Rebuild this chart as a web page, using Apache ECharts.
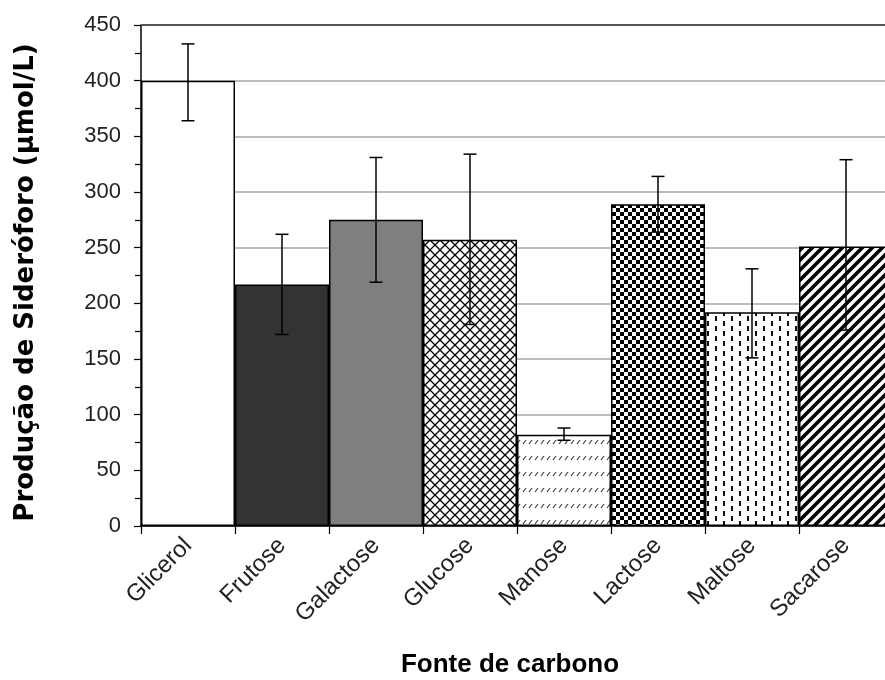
<!DOCTYPE html>
<html>
<head>
<meta charset="utf-8">
<script src="https://cdn.jsdelivr.net/npm/echarts@6/dist/echarts.min.js"></script>
<style>
  html, body { margin: 0; padding: 0; background: #fff; }
  #chart { width: 885px; height: 680px; }
</style>
</head>
<body>
<div id="chart"></div>
<script>
var categories = ['Glicerol', 'Frutose', 'Galactose', 'Glucose', 'Manose', 'Lactose', 'Maltose', 'Sacarose'];
var values = [400, 217, 275, 257, 82, 289, 192, 251];
var errLow = [364, 172, 219, 181, 77, 264, 151, 176];
var errHigh = [433, 262, 331, 334, 88, 314, 231, 329];
var yTicks = [0, 50, 100, 150, 200, 250, 300, 350, 400, 450];

// small canvas tiles used as bar fills
function tile(w, h, draw) {
    var c = document.createElement('canvas');
    c.width = w; c.height = h;
    var ctx = c.getContext('2d');
    ctx.fillStyle = '#fff';
    ctx.fillRect(0, 0, w, h);
    draw(ctx);
    return { image: c, repeat: 'repeat' };
}

var crossHatch = tile(10, 10, function (ctx) {
    ctx.strokeStyle = '#000';
    ctx.lineWidth = 1.3;
    ctx.beginPath();
    ctx.moveTo(0, 0); ctx.lineTo(10, 10);
    ctx.moveTo(10, 0); ctx.lineTo(0, 10);
    ctx.stroke();
});
var dashRows = tile(6, 16, function (ctx) {
    ctx.strokeStyle = '#444';
    ctx.lineWidth = 1.2;
    ctx.beginPath();
    ctx.moveTo(1, 12); ctx.lineTo(4, 8);
    ctx.stroke();
});
var checker = tile(8, 8, function (ctx) {
    ctx.fillStyle = '#000';
    ctx.fillRect(0, 0, 4, 4);
    ctx.fillRect(4, 4, 4, 4);
});
var vDashes = tile(16, 10, function (ctx) {
    ctx.fillStyle = '#111';
    ctx.fillRect(3, 1, 2, 5);
    ctx.fillRect(11, 6, 2, 4);
    ctx.fillRect(11, 0, 2, 1);
});
var stripes = tile(10, 10, function (ctx) {
    ctx.strokeStyle = '#000';
    ctx.lineWidth = 3.6;
    ctx.beginPath();
    ctx.moveTo(-5, 5); ctx.lineTo(5, -5);
    ctx.moveTo(0, 10); ctx.lineTo(10, 0);
    ctx.moveTo(5, 15); ctx.lineTo(15, 5);
    ctx.stroke();
});

var fills = ['#ffffff', '#333333', '#7f7f7f', crossHatch, dashRows, checker, vDashes, stripes];

var barData = values.map(function (v, i) {
    return { value: v, itemStyle: { color: fills[i] } };
});
var errData = categories.map(function (c, i) {
    return [i, errLow[i], errHigh[i]];
});

var myChart = echarts.init(document.getElementById('chart'));
option = {
    animation: false,
    grid: {
        left: 141,
        top: 25,
        width: 752,
        height: 501,
        outerBoundsMode: 'none'
    },
    xAxis: {
        type: 'category',
        data: categories,
        name: 'Fonte de carbono',
        nameLocation: 'middle',
        nameGap: 126,
        nameTextStyle: {
            fontFamily: 'Liberation Sans',
            fontWeight: 'bold',
            fontSize: 26,
            color: '#000',
            padding: [0, 14, 0, 0]
        },
        axisLine: { lineStyle: { color: '#000', width: 1.5 } },
        axisTick: { show: true, length: 8, lineStyle: { color: '#000', width: 1.2 } },
        axisLabel: {
            rotate: 45,
            margin: 16,
            fontFamily: 'Liberation Sans',
            fontSize: 24,
            color: '#222'
        }
    },
    yAxis: {
        type: 'value',
        min: 0,
        max: 450,
        interval: 50,
        name: 'Produção de Sideróforo (μmol/L)',
        nameLocation: 'middle',
        nameGap: 102,
        nameTextStyle: {
            fontFamily: 'DejaVu Sans',
            fontWeight: 'bold',
            fontSize: 26,
            color: '#000',
            padding: [0, 14, 0, 0]
        },
        axisLine: { show: true, lineStyle: { color: '#000', width: 1.5 } },
        axisTick: { show: true, length: 7, lineStyle: { color: '#000', width: 1.2 } },
        minorTick: { show: true, splitNumber: 2, length: 6, lineStyle: { color: '#000', width: 1.2 } },
        splitLine: { show: true, lineStyle: { color: '#a6a6a6', width: 1.5 } },
        axisLabel: {
            margin: 20,
            fontFamily: 'Liberation Sans',
            fontSize: 22,
            color: '#222',
            formatter: function (v) { return yTicks.indexOf(v) >= 0 ? String(v) : ''; }
        }
    },
    series: [
        {
            type: 'bar',
            data: barData,
            barCategoryGap: '0%',
            itemStyle: { borderColor: '#000', borderWidth: 1.5 },
            markLine: {
                silent: true,
                symbol: 'none',
                label: { show: false },
                lineStyle: { color: '#555', width: 2, type: 'solid' },
                data: [{ yAxis: 450 }]
            }
        },
        {
            type: 'custom',
            data: errData,
            encode: { x: 0, y: [1, 2] },
            z: 10,
            renderItem: function (params, api) {
                var lo = api.coord([api.value(0), api.value(1)]);
                var hi = api.coord([api.value(0), api.value(2)]);
                var hw = 6.5;
                var st = { stroke: '#000', lineWidth: 1.5 };
                return {
                    type: 'group',
                    children: [
                        { type: 'line', shape: { x1: lo[0], y1: lo[1], x2: hi[0], y2: hi[1] }, style: st },
                        { type: 'line', shape: { x1: lo[0] - hw, y1: lo[1], x2: lo[0] + hw, y2: lo[1] }, style: st },
                        { type: 'line', shape: { x1: hi[0] - hw, y1: hi[1], x2: hi[0] + hw, y2: hi[1] }, style: st }
                    ]
                };
            }
        }
    ]
};
myChart.setOption(option);
</script>
</body>
</html>
